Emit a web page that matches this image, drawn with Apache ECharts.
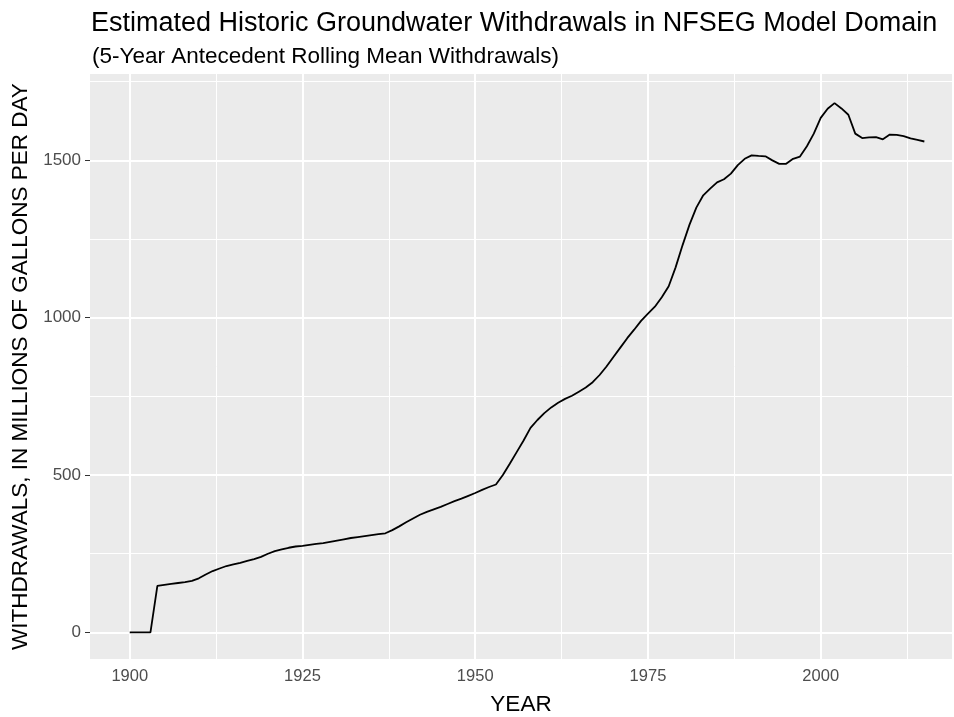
<!DOCTYPE html>
<html>
<head><meta charset="utf-8"></head>
<script type="text/javascript" src="https://cdn.jsdelivr.net/npm/echarts@6/dist/echarts.min.js"></script>
<body style="margin:0;background-color:white;">
    <div id="main" style="width:954px;height:717px;"></div>
</body>
<script>
// 年份 / 5年滚动平均取水量（百万加仑每天）
var years = [1900,1901,1902,1903,1904,1905,1906,1907,1908,1909,
    1910,1911,1912,1913,1914,1915,1916,1917,1918,1919,
    1920,1921,1922,1923,1924,1925,1926,1927,1928,1929,
    1930,1931,1932,1933,1934,1935,1936,1937,1938,1939,
    1940,1941,1942,1943,1944,1945,1946,1947,1948,1949,
    1950,1951,1952,1953,1954,1955,1956,1957,1958,1959,
    1960,1961,1962,1963,1964,1965,1966,1967,1968,1969,
    1970,1971,1972,1973,1974,1975,1976,1977,1978,1979,
    1980,1981,1982,1983,1984,1985,1986,1987,1988,1989,
    1990,1991,1992,1993,1994,1995,1996,1997,1998,1999,
    2000,2001,2002,2003,2004,2005,2006,2007,2008,2009,
    2010,2011,2012,2013,2014,2015]
var withdrawals = [0,0,0,0,148,151,154,157,160,164,
    172,184,195,203,211,216,221,227,233,240,
    250,258,264,269,273,275,278,281,284,288,
    292,296,300,303,306,309,312,315,325,337,
    350,362,374,383,391,399,408,417,425,434,
    443,453,462,470,500,536,573,610,650,675,
    697,715,730,742,752,765,778,795,818,845,
    875,905,935,962,990,1013,1035,1065,1100,1160,
    1230,1295,1350,1389,1410,1430,1440,1458,1485,1505,
    1516,1514,1513,1500,1489,1489,1505,1512,1545,1585,
    1635,1664,1682,1665,1645,1585,1571,1573,1574,1567,
    1582,1581,1577,1570,1565,1560]

var xTicks = [1900,1925,1950,1975,2000]
var xMinor = [1912.5,1937.5,1962.5,1987.5,2012.5]
var yTicks = [0,500,1000,1500]
var yMinor = [250,750,1250,1750]

var mydata = years.map(function(y,i){return [y, withdrawals[i]]})

var majorLines = xTicks.map(function(v){return {xAxis:v}}).concat(yTicks.map(function(v){return {yAxis:v}}))
var minorLines = xMinor.map(function(v){return {xAxis:v}}).concat(yMinor.map(function(v){return {yAxis:v}}))

var myChart = echarts.init(document.getElementById('main'))

var font = 'Liberation Sans, Arial, sans-serif'
var plain = function(v){return String(v)}
var option = {
    animation: false,
    title: [
        {text:'Estimated Historic Groundwater Withdrawals in NFSEG Model Domain', left:86, top:5,
         textStyle:{fontFamily:font, fontSize:27, fontWeight:'normal', color:'#000'}},
        {text:'(5-Year Antecedent Rolling Mean Withdrawals)', left:87, top:40,
         textStyle:{fontFamily:font, fontSize:22.5, fontWeight:'normal', color:'#000'}}
    ],
    grid: {left:90, top:74, width:862, height:585, show:true, backgroundColor:'#EBEBEB', borderWidth:0,
           outerBoundsMode:'none', containLabel:false},
    xAxis: {
        type:'value', min:1894.25, max:2019,
        name:'YEAR', nameLocation:'middle', nameGap:34,
        nameTextStyle:{fontFamily:font, fontSize:22.5, color:'#000'},
        axisLine:{show:false},
        axisTick:{show:true, length:5, customValues:xTicks, lineStyle:{color:'#333'}},
        axisLabel:{customValues:xTicks, formatter:plain, margin:9, fontFamily:font, fontSize:16.5, color:'#4D4D4D'},
        splitLine:{show:false}
    },
    yAxis: {
        type:'value', min:-84.5, max:1774.5,
        name:'WITHDRAWALS, IN MILLIONS OF GALLONS PER DAY', nameLocation:'middle', nameGap:58, nameRotate:90,
        nameTextStyle:{fontFamily:font, fontSize:22.5, color:'#000'},
        axisLine:{show:false},
        axisTick:{show:true, length:5, customValues:yTicks, lineStyle:{color:'#333'}},
        axisLabel:{customValues:yTicks, formatter:plain, margin:9, fontFamily:font, fontSize:17, color:'#4D4D4D'},
        splitLine:{show:false}
    },
    series: [
        {
            type:'line', data:mydata, z:1, silent:true, symbol:'none',
            lineStyle:{opacity:0},
            markLine:{silent:true, symbol:['none','none'], label:{show:false}, animation:false,
                lineStyle:{color:'#FFFFFF', width:1, type:'solid'}, data:minorLines}
        },
        {
            type:'line', data:[], z:2, silent:true, symbol:'none',
            markLine:{silent:true, symbol:['none','none'], label:{show:false}, animation:false,
                lineStyle:{color:'#FFFFFF', width:2, type:'solid'}, data:majorLines}
        },
        {
            type:'line', data:mydata, z:5, symbol:'none', showSymbol:false,
            lineStyle:{color:'#000000', width:1.8}
        }
    ]
}

option && myChart.setOption(option)
</script>
</html>
